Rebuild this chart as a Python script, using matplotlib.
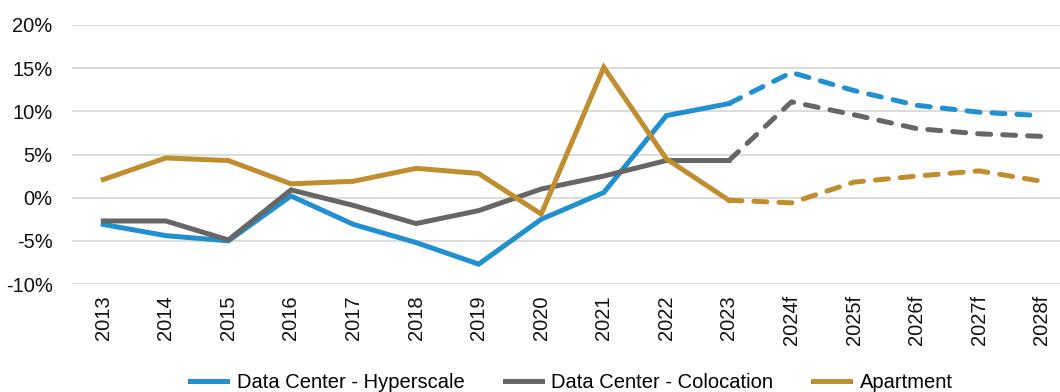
import matplotlib
matplotlib.use("Agg")
import matplotlib.pyplot as plt

# years on the x axis, forecasts marked with "f"
years = ["2013", "2014", "2015", "2016", "2017", "2018", "2019", "2020",
         "2021", "2022", "2023", "2024f", "2025f", "2026f", "2027f", "2028f"]

# annual growth, percent
hyperscale = [-3.1, -4.4, -5.0, 0.2, -3.1, -5.2, -7.7, -2.5,
              0.6, 9.5, 10.9, 14.5, 12.4, 10.7, 9.9, 9.5]
colocation = [-2.7, -2.7, -4.9, 0.9, -0.9, -3.0, -1.5, 1.0,
              2.5, 4.3, 4.3, 11.1, 9.6, 8.0, 7.4, 7.1]
apartment = [2.1, 4.6, 4.3, 1.6, 1.9, 3.4, 2.8, -1.9,
             15.1, 4.5, -0.3, -0.6, 1.8, 2.5, 3.1, 1.9]

series_names = ["Data Center - Hyperscale", "Data Center - Colocation", "Apartment"]
colors = ["#2190d0", "#666666", "#c08e2e"]

# last actual year; everything after is drawn dashed
split = years.index("2023")

plt.rcParams["font.family"] = ["Liberation Sans", "DejaVu Sans"]

fig = plt.figure(figsize=(10.6, 3.92), dpi=100)
ax = fig.add_axes([72 / 1060, 1 - 284 / 392, 1001 / 1060, 259 / 392])

x = list(range(len(years)))
for vals, name, c in zip([hyperscale, colocation, apartment], series_names, colors):
    ax.plot(x[:split + 1], vals[:split + 1], color=c, lw=3.6,
            solid_joinstyle="miter", label=name)
    ax.plot(x[split:], vals[split:], color=c, lw=3.6, ls=(0, (2.6, 2.4)),
            dash_capstyle="round")

ax.set_xlim(-0.5, len(years) - 0.5)
ax.set_ylim(-10, 20)
ax.set_yticks([-10, -5, 0, 5, 10, 15, 20])
ax.set_yticklabels([f"{v}%" for v in [-10, -5, 0, 5, 10, 15, 20]], fontsize=14.5)
ax.set_xticks(x)
ax.set_xticklabels(years, rotation=90, fontsize=14.5)
ax.tick_params(axis="y", length=0, pad=14, colors="#111111")
ax.tick_params(axis="x", length=0, pad=8, colors="#111111")
ax.grid(axis="y", color="#d9d9d6", lw=1.3)
ax.set_axisbelow(True)
for s in ax.spines.values():
    s.set_visible(False)

fig.legend(loc="center", bbox_to_anchor=(0.539, 1 - 383 / 392), ncol=3,
           frameon=False, fontsize=14.5, handlelength=1.85, columnspacing=2.0,
           handletextpad=0.45)

fig.savefig("out.png", dpi=100)
